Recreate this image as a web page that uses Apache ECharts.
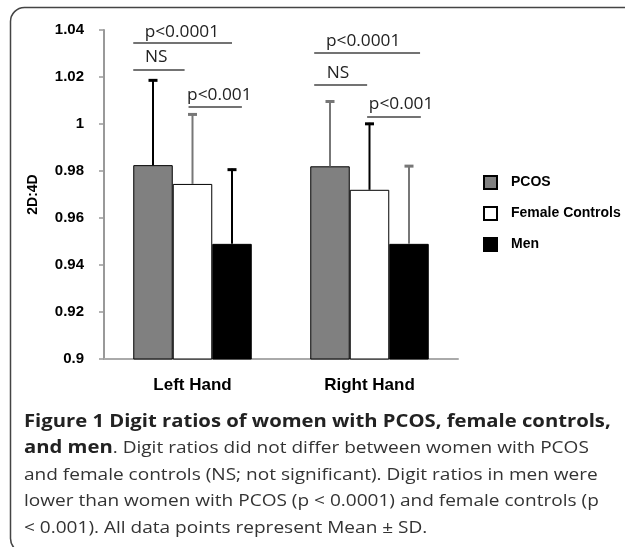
<!DOCTYPE html>
<html>
<head>
<meta charset="utf-8">
<script src="https://cdn.jsdelivr.net/npm/echarts@6/dist/echarts.min.js"></script>
<style>
  html, body { margin: 0; padding: 0; background: #fff; }
  #chart { width: 625px; height: 547px; }
</style>
</head>
<body>
<div id="chart"></div>
<script>
// data (mean and SD of 2D:4D)
var hands = ['Left Hand', 'Right Hand'];
var groups = ['PCOS', 'Female Controls', 'Men'];
var pcosMean = [0.9825, 0.982];
var femaleMean = [0.9745, 0.972];
var menMean = [0.949, 0.949];
var pcosSD = [0.0365, 0.028];
var femaleSD = [0.030, 0.0285];
var menSD = [0.032, 0.0335];
var yTicks = { min: 0.9, max: 1.04, step: 0.02 };

// significance brackets: [hand, text, y of line, from bar, to bar, text at bar, y of text]
var brackets = [
    [0, 'p<0.0001', 1.0345, -1.5, 1.0, -0.27, 1.0390],
    [0, 'NS', 1.0230, -1.5, -0.2, -0.92, 1.0285],
    [0, 'p<0.001', 1.0072, -0.1, 1.25, 0.68, 1.0123],
    [1, 'p<0.0001', 1.0302, -1.4, 1.28, -0.16, 1.0350],
    [1, 'NS', 1.0166, -1.4, -0.06, -0.80, 1.0217],
    [1, 'p<0.001', 1.0030, -0.06, 1.3, 0.80, 1.0085]
];

var captionLines = [
    '{b|Figure 1 Digit ratios of women with PCOS, female controls,}',
    '{b|and men}{n|. Digit ratios did not differ between women with PCOS}',
    '{n|and female controls (NS; not significant). Digit ratios in men were}',
    '{n|lower than women with PCOS (p < 0.0001) and female controls (p}',
    '{n|< 0.001). All data points represent Mean \u00b1 SD.}'
];

var BAR_W = 39.5;
var means = [pcosMean, femaleMean, menMean];
var sds = [pcosSD, femaleSD, menSD];

var errData = [];
for (var h = 0; h < hands.length; h++) {
    for (var g = 0; g < groups.length; g++) {
        errData.push([h, g, means[g][h], sds[g][h]]);
    }
}

var captionRich = {
    b: { font: 'bold 17px "Open Sans", sans-serif', fill: '#222' },
    n: { font: '16px "Open Sans", sans-serif', fill: '#333' }
};
var caption = captionLines.map(function (txt, i) {
    return {
        type: 'text', x: 24, y: 422 + i * 26.5, scaleX: 1.19,
        style: { text: txt, rich: captionRich, verticalAlign: 'middle' }
    };
});

var myChart = echarts.init(document.getElementById('chart'));

var option = {
    animation: false,
    textStyle: { fontFamily: 'Liberation Sans, Arial, sans-serif' },
    grid: { left: 104, right: 167, top: 30, bottom: 188 },
    legend: {
        orient: 'vertical',
        left: 483,
        top: 175,
        padding: 0,
        itemWidth: 13,
        itemHeight: 13,
        itemGap: 16,
        icon: 'rect',
        data: groups,
        textStyle: { fontSize: 14, fontWeight: 'bold', color: '#000', padding: [0, 0, 0, 9] }
    },
    xAxis: {
        type: 'category',
        data: hands,
        axisLine: { lineStyle: { color: '#aaa', width: 2 } },
        axisTick: { show: false },
        axisLabel: { fontSize: 17, fontWeight: 'bold', color: '#000', margin: 18 }
    },
    yAxis: {
        type: 'value',
        min: yTicks.min,
        max: yTicks.max,
        interval: yTicks.step,
        name: '2D:4D',
        nameLocation: 'middle',
        nameRotate: 90,
        nameGap: 64,
        nameTextStyle: { fontSize: 14, fontWeight: 'bold', color: '#000' },
        axisLine: { show: true, lineStyle: { color: '#999', width: 2 } },
        axisTick: { show: true, length: 5, lineStyle: { color: '#999', width: 1.5 } },
        splitLine: { show: false },
        axisLabel: { fontSize: 15, fontWeight: 'bold', color: '#000', margin: 20 }
    },
    series: [
        {
            name: 'PCOS', type: 'bar', data: pcosMean, barWidth: BAR_W, barGap: '0%',
            itemStyle: { color: '#808080', borderColor: '#000', borderWidth: 1 }
        },
        {
            name: 'Female Controls', type: 'bar', data: femaleMean, barWidth: BAR_W, barGap: '0%',
            itemStyle: { color: '#fff', borderColor: '#000', borderWidth: 1 }
        },
        {
            name: 'Men', type: 'bar', data: menMean, barWidth: BAR_W, barGap: '0%',
            itemStyle: { color: '#000', borderColor: '#000', borderWidth: 1 }
        },
        {
            // upward SD whiskers
            type: 'custom',
            data: errData,
            z: 5,
            renderItem: function (params, api) {
                var h = api.value(0), g = api.value(1);
                var m = api.value(2), sd = api.value(3);
                var base = api.coord([h, m]);
                var top = api.coord([h, m + sd]);
                var x = base[0] + (g - 1) * BAR_W;
                var col = (h + g) % 2 === 0 ? '#000' : '#777';
                return {
                    type: 'group',
                    children: [
                        { type: 'line', shape: { x1: x, y1: base[1], x2: x, y2: top[1] },
                          style: { stroke: col, lineWidth: 2 } },
                        { type: 'line', shape: { x1: x - 4.5, y1: top[1] + 1, x2: x + 4.5, y2: top[1] + 1 },
                          style: { stroke: col, lineWidth: 3 } }
                    ]
                };
            }
        },
        {
            // significance lines and labels
            type: 'custom',
            data: brackets,
            z: 6,
            renderItem: function (params, api) {
                var b = brackets[params.dataIndex];
                var c = api.coord([b[0], b[2]]);
                var t = api.coord([b[0], b[6]]);
                return {
                    type: 'group',
                    children: [
                        { type: 'line', shape: { x1: c[0] + b[3] * BAR_W, y1: c[1], x2: c[0] + b[4] * BAR_W, y2: c[1] },
                          style: { stroke: '#444', lineWidth: 1.5 } },
                        { type: 'text', x: c[0] + b[5] * BAR_W, y: t[1], scaleX: 1.08,
                          style: { text: b[1], fill: '#222', font: '16px "Open Sans", sans-serif',
                                   align: 'center', verticalAlign: 'middle' } }
                    ]
                };
            }
        }
    ],
    graphic: [
        { type: 'rect', shape: { x: 10.5, y: 7.5, width: 700, height: 545, r: 14 },
          style: { fill: 'none', stroke: '#444', lineWidth: 1.5 }, silent: true }
    ].concat(caption)
};

myChart.setOption(option);
</script>
</body>
</html>
